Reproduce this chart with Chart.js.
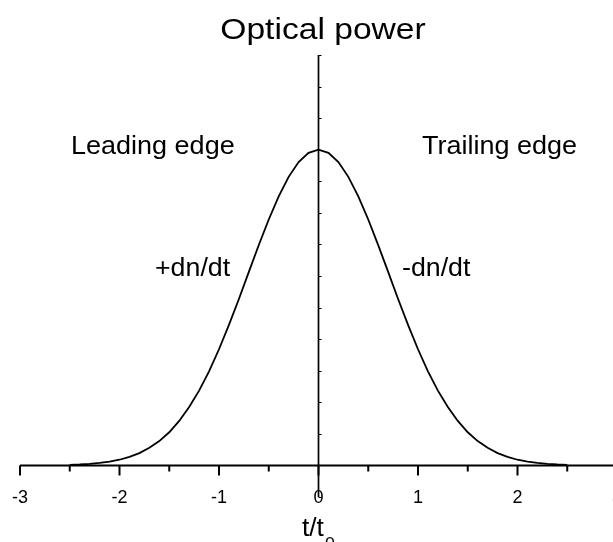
<!DOCTYPE html>
<html lang="en">
<head>
    <meta charset="utf-8">
    <script src="https://cdn.jsdelivr.net/npm/chart.js@4/dist/chart.umd.min.js"></script>
    <title>Optical power</title>
    <style>
        html, body { margin: 0; padding: 0; background: #fff; overflow: hidden; }
        canvas { display: block; }
    </style>
</head>
<body>
<canvas id="pulse" width="640" height="542"></canvas>
<script>
    // normalised time t/t0 and pulse power
    const tValues = [
        -2.5, -2.4, -2.3, -2.2, -2.1, -2.0, -1.9, -1.8, -1.7, -1.6, -1.5, -1.4, -1.3,
        -1.2, -1.1, -1.0, -0.9, -0.8, -0.7, -0.6, -0.5, -0.4, -0.3, -0.2, -0.1, 0.0,
        0.1, 0.2, 0.3, 0.4, 0.5, 0.6, 0.7, 0.8, 0.9, 1.0, 1.1, 1.2, 1.3,
        1.4, 1.5, 1.6, 1.7, 1.8, 1.9, 2.0, 2.1, 2.2, 2.3, 2.4, 2.5
    ];
    const powerValues = [
        0.002, 0.003, 0.005, 0.008, 0.012, 0.018, 0.027, 0.039, 0.056, 0.077, 0.105, 0.141, 0.185,
        0.237, 0.298, 0.368, 0.445, 0.527, 0.613, 0.698, 0.779, 0.852, 0.914, 0.961, 0.990, 1.000,
        0.990, 0.961, 0.914, 0.852, 0.779, 0.698, 0.613, 0.527, 0.445, 0.368, 0.298, 0.237, 0.185,
        0.141, 0.105, 0.077, 0.056, 0.039, 0.027, 0.018, 0.012, 0.008, 0.005, 0.003, 0.002
    ];
    const xTicks = [-3, -2, -1, 0, 1, 2, 3];
    const xMinorTicks = [-2.5, -1.5, -0.5, 0.5, 1.5, 2.5];
    const yTicks = [-0.1, 0, 0.1, 0.2, 0.3, 0.4, 0.5, 0.6, 0.7, 0.8, 0.9, 1.0, 1.1, 1.2, 1.3];

    const FONT = "'Liberation Sans', Arial, sans-serif";

    function stretchText(ctx, text, x, y, size, sx, align) {
        ctx.save();
        ctx.font = size + "px " + FONT;
        ctx.textBaseline = "alphabetic";
        ctx.textAlign = "left";
        const w = ctx.measureText(text).width * sx;
        let left = x;
        if (align === "center") left = x - w / 2;
        ctx.translate(left, y);
        ctx.scale(sx, 1);
        ctx.fillText(text, 0, 0);
        ctx.restore();
        return w;
    }

    // axes crossing at the origin, ticks and annotations
    const axesPlugin = {
        id: "originAxes",
        afterDraw(chart) {
            const ctx = chart.ctx;
            const xs = chart.scales.x, ys = chart.scales.y;
            const x0 = xs.getPixelForValue(0);
            const y0 = ys.getPixelForValue(0);
            ctx.save();
            ctx.strokeStyle = "#000";
            ctx.fillStyle = "#000";

            // horizontal axis
            ctx.lineWidth = 2;
            ctx.beginPath();
            ctx.moveTo(xs.getPixelForValue(xTicks[0]), y0);
            ctx.lineTo(chart.width, y0);
            ctx.stroke();
            ctx.beginPath();
            xTicks.forEach(v => {
                const px = xs.getPixelForValue(v);
                ctx.moveTo(px, y0);
                ctx.lineTo(px, y0 + 10);
            });
            xMinorTicks.forEach(v => {
                const px = xs.getPixelForValue(v);
                ctx.moveTo(px, y0);
                ctx.lineTo(px, y0 + 6);
            });
            ctx.stroke();

            // vertical axis
            ctx.lineWidth = 1.7;
            ctx.beginPath();
            ctx.moveTo(x0, ys.getPixelForValue(yTicks[yTicks.length - 1]));
            ctx.lineTo(x0, ys.getPixelForValue(yTicks[0]));
            ctx.stroke();
            ctx.lineWidth = 1;
            ctx.beginPath();
            yTicks.forEach(v => {
                const py = Math.round(ys.getPixelForValue(v)) + 0.5;
                ctx.moveTo(x0, py);
                ctx.lineTo(x0 + 3, py);
            });
            ctx.stroke();

            // tick labels
            ctx.font = "18px " + FONT;
            ctx.textAlign = "center";
            ctx.textBaseline = "middle";
            xTicks.forEach(v => {
                ctx.fillText(String(v), xs.getPixelForValue(v), y0 + 33);
            });

            // titles and notes
            stretchText(ctx, "Optical power", 323, 39, 30, 1.12, "center");
            stretchText(ctx, "Leading edge", 71, 154, 25, 1.08, "left");
            stretchText(ctx, "Trailing edge", 422, 154, 25, 1.08, "left");
            stretchText(ctx, "+dn/dt", 155, 276, 25, 1.07, "left");
            stretchText(ctx, "-dn/dt", 402, 276, 25, 1.07, "left");

            const w = stretchText(ctx, "t/t", 302, 536, 25, 1.05, "left");
            stretchText(ctx, "0", 302 + w + 1, 549, 17, 1.05, "left");
            ctx.restore();
        }
    };

    new Chart(document.getElementById("pulse"), {
        type: "line",
        data: {
            datasets: [{
                data: tValues.map((t, i) => ({ x: t, y: powerValues[i] })),
                borderColor: "#000",
                borderWidth: 1.8,
                pointRadius: 0,
                fill: false,
                tension: 0
            }]
        },
        options: {
            responsive: false,
            animation: false,
            layout: { padding: { left: 20, right: 23, top: 55, bottom: 45 } },
            plugins: {
                legend: { display: false },
                title: { display: false },
                tooltip: { enabled: false }
            },
            scales: {
                x: { type: "linear", min: -3, max: 3, display: false },
                y: { type: "linear", min: -0.1, max: 1.3, display: false }
            }
        },
        plugins: [axesPlugin]
    });
</script>
</body>
</html>
